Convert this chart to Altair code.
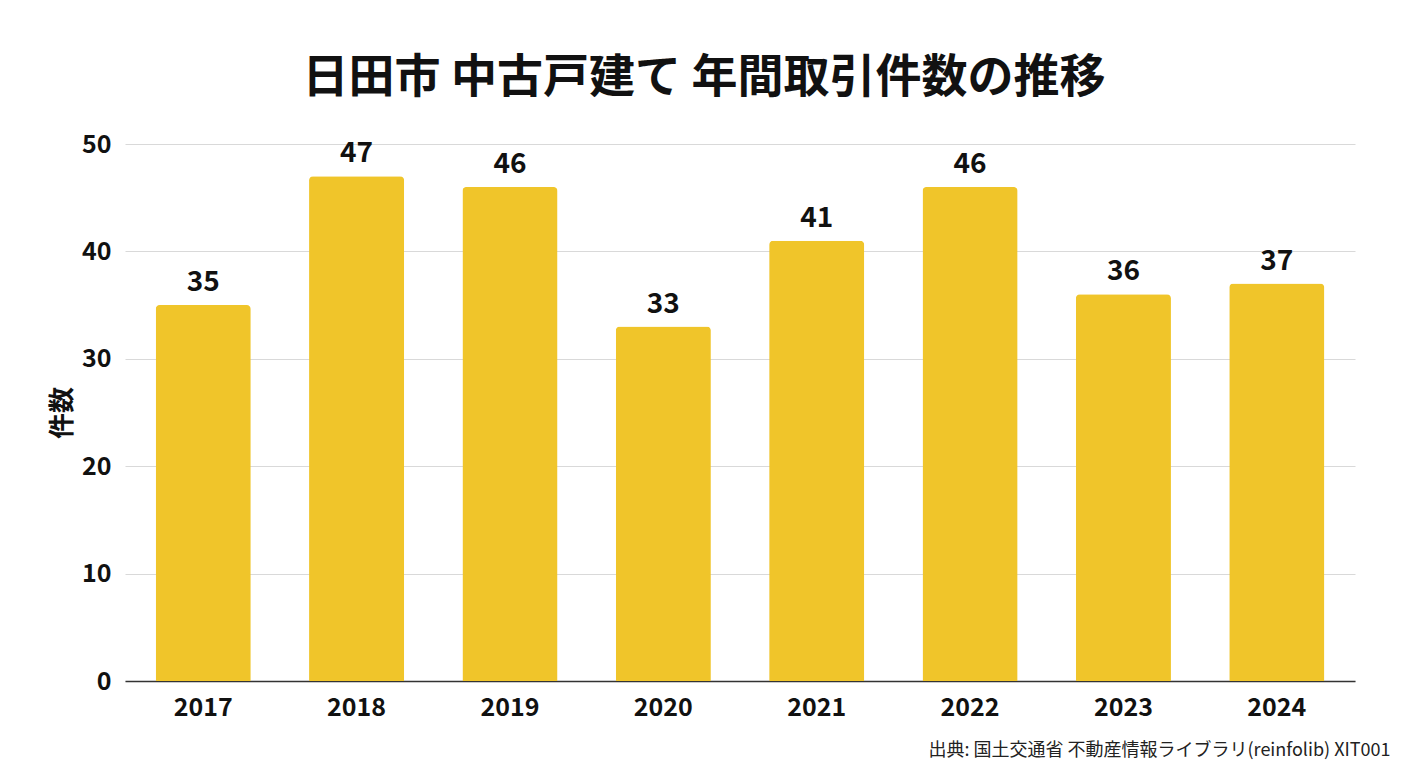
import altair as alt
import pandas as pd

years = ["2017", "2018", "2019", "2020", "2021", "2022", "2023", "2024"]
counts = [35, 47, 46, 33, 41, 46, 36, 37]
y_ticks = [0, 10, 20, 30, 40, 50]
title_text = "日田市 中古戸建て 年間取引件数の推移"
y_title = "件数"
source_text = "出典: 国土交通省 不動産情報ライブラリ(reinfolib) XIT001"

df = pd.DataFrame({"year": years, "count": counts})
FONT = "Noto Sans CJK JP"
BAR = "#F0C52A"

base = alt.Chart(df)

bars = base.mark_bar(color=BAR, cornerRadiusTopLeft=4, cornerRadiusTopRight=4).encode(
    x=alt.X("year:N", sort=years,
            scale=alt.Scale(paddingInner=0.38, paddingOuter=0.2),
            axis=alt.Axis(title=source_text, labelAngle=0, labelFontSize=25, labelFontWeight="bold",
                          labelColor="#111", labelPadding=14, ticks=False,
                          domainColor="#333", domainWidth=1.5,
                          titleFontSize=18, titleFontWeight="normal", titleColor="#222",
                          titleAnchor="end", titleAlign="right", titleBaseline="middle",
                          titleX=1265, titleY=69)),
    y=alt.Y("count:Q", scale=alt.Scale(domain=[0, 50]),
            axis=alt.Axis(title=y_title, values=y_ticks, labelFontSize=25, labelFontWeight="bold",
                          labelColor="#111", labelPadding=14, ticks=False, domain=False,
                          gridColor="#d9d9d9", gridWidth=1.2,
                          titleFontSize=26, titleFontWeight="bold", titleColor="#111",
                          titlePadding=6)),
)

labels = base.mark_text(dy=-8, baseline="bottom", fontSize=28, fontWeight="bold",
                        color="#111", font=FONT).encode(
    x=alt.X("year:N", sort=years),
    y=alt.Y("count:Q"),
    text=alt.Text("count:Q"),
)

chart = (bars + labels).properties(
    width=1230, height=537,
    autosize=alt.AutoSizeParams(type="none"),
    padding={"left": 117, "top": 136, "right": 45, "bottom": 79},
    background="white",
    title=alt.TitleParams(title_text, fontSize=46, fontWeight="bold", color="#111",
                          anchor="middle", offset=30, dx=-36, font=FONT),
).configure(font=FONT).configure_view(stroke=None)

chart.save("out.html", embed_options={"renderer": "svg", "actions": False})
